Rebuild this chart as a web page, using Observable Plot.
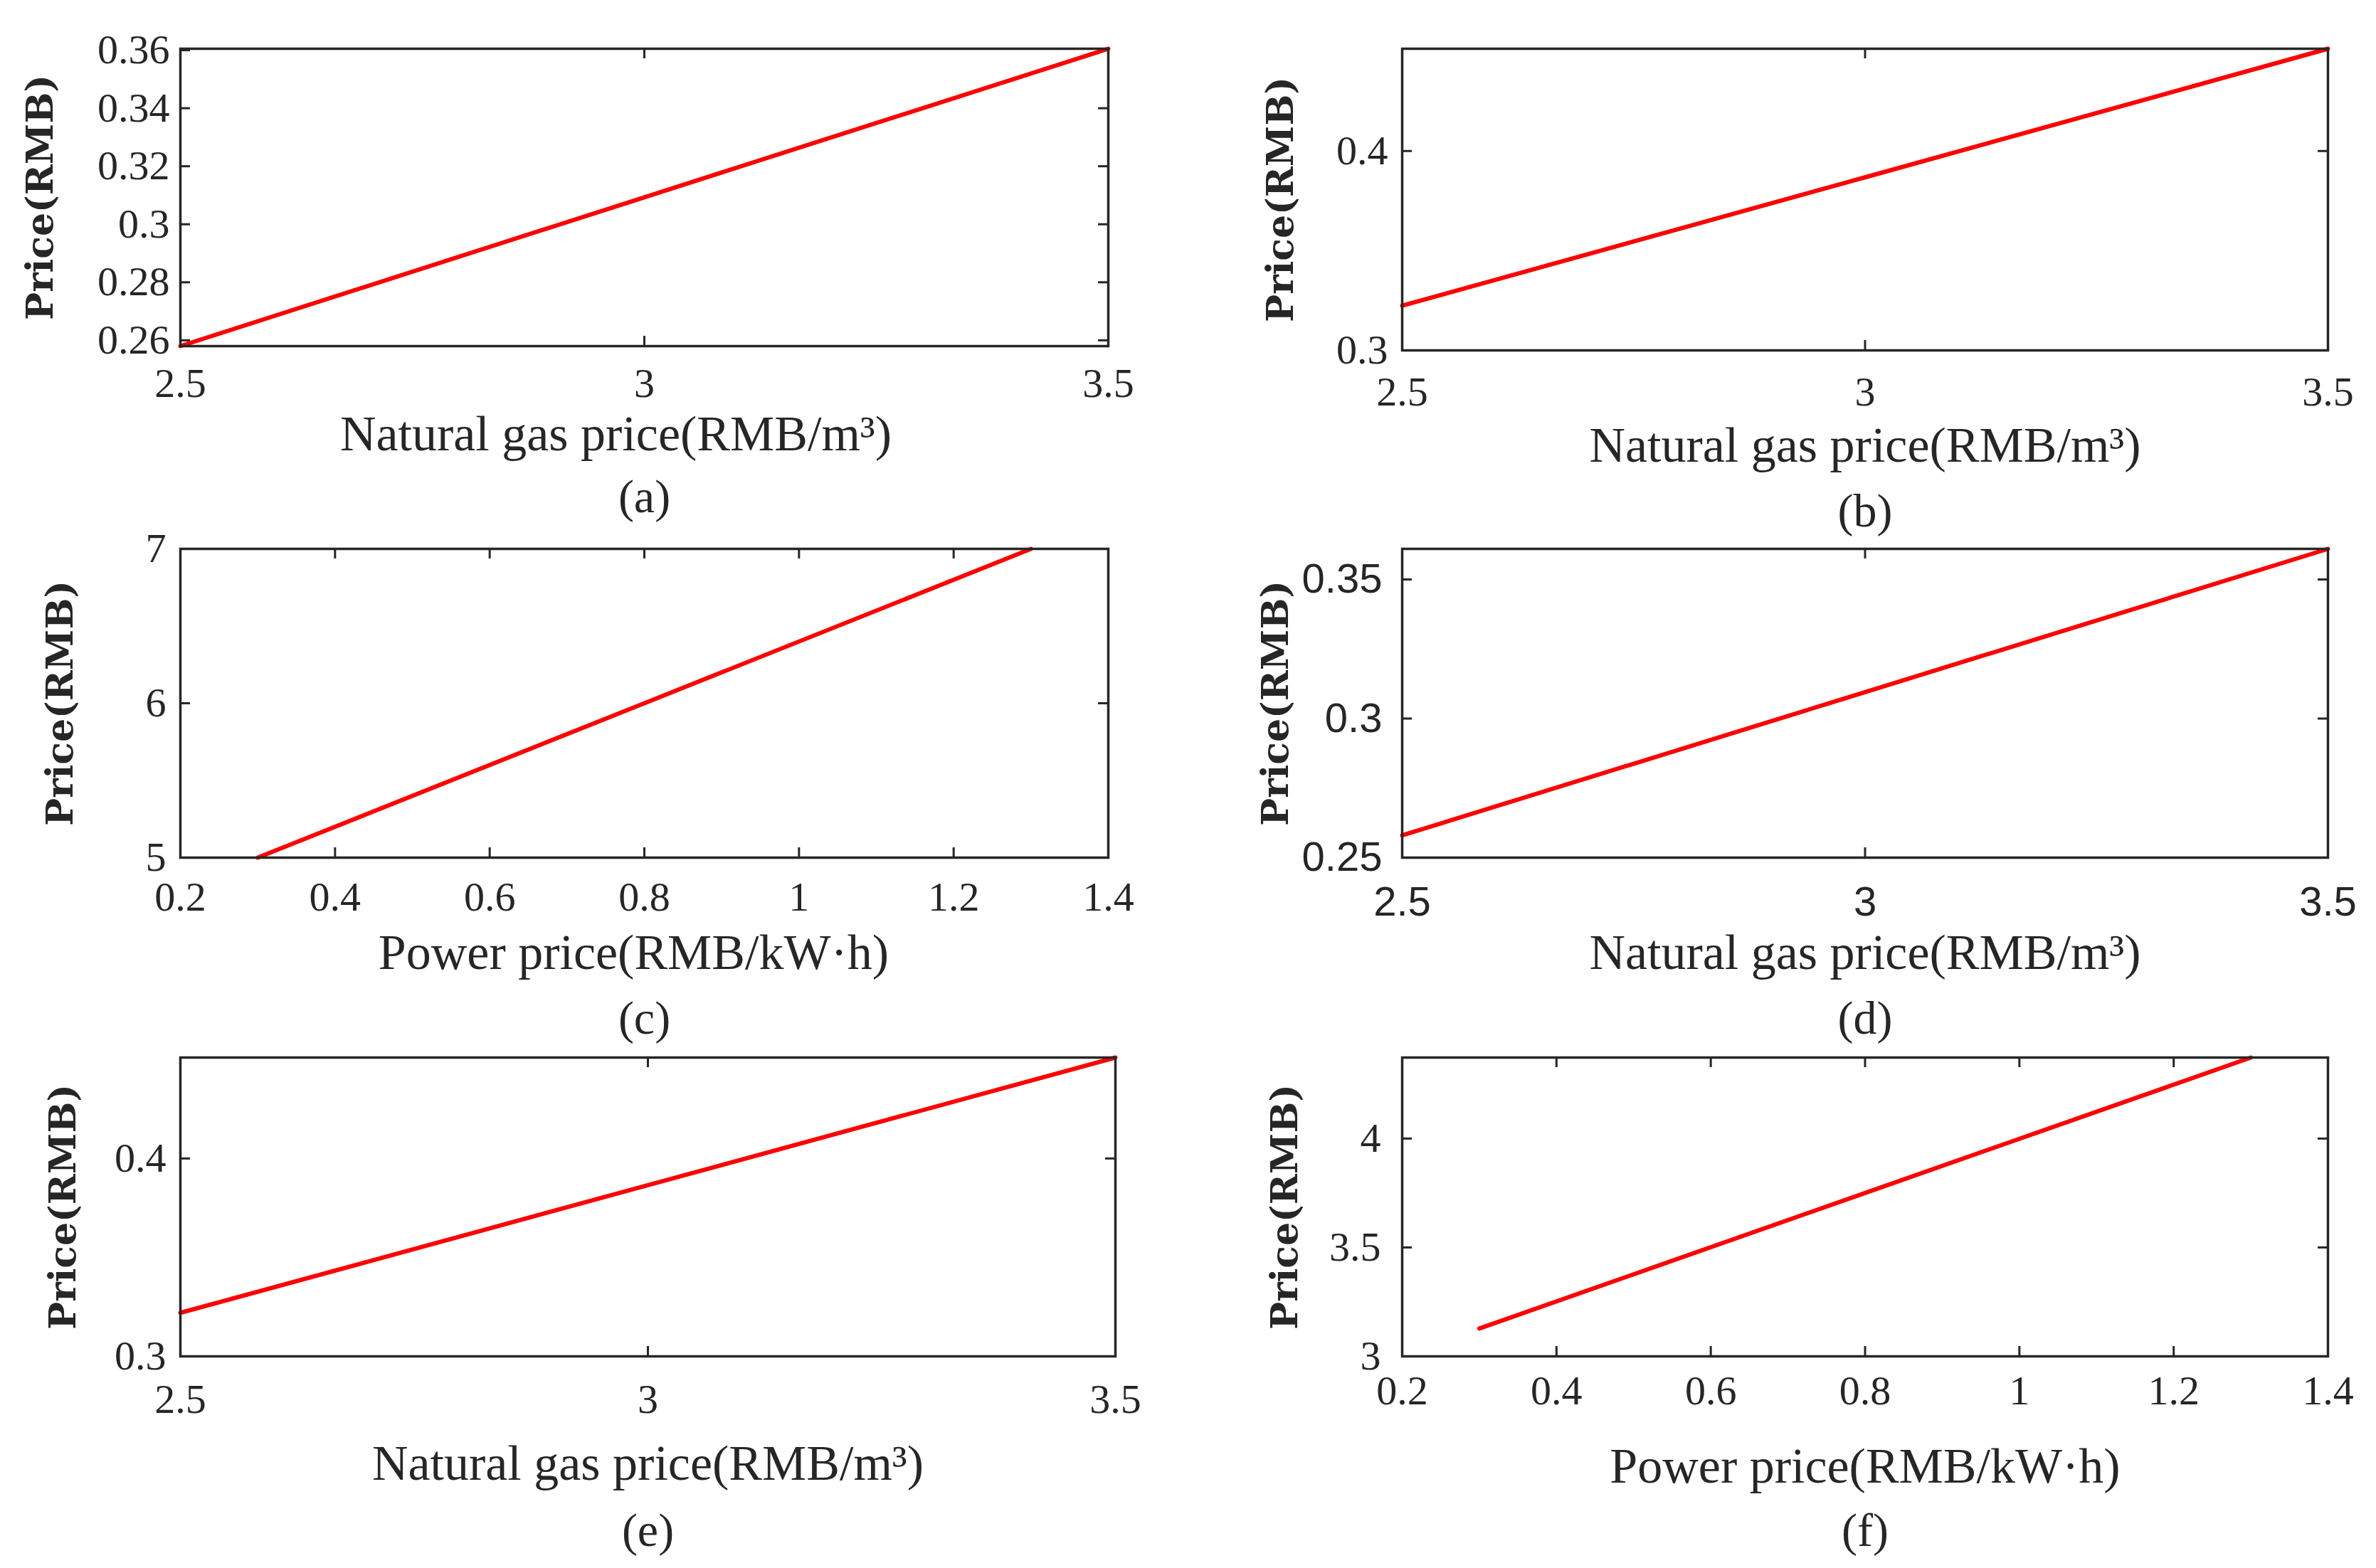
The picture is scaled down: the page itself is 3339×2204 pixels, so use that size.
<!DOCTYPE html>
<html>
<head>
<meta charset="utf-8">
<script src="https://cdn.jsdelivr.net/npm/d3@7"></script>
<script src="https://cdn.jsdelivr.net/npm/@observablehq/plot@0.6"></script>
<style>
  body { margin: 0; background: #fff; }
  #fig { position: relative; width: 3339px; height: 2204px; background: #fff; }
  .panel { position: absolute; }
</style>
</head>
<body>
<div id="fig"></div>
<script>
// values
const gasX = [2.5, 3, 3.5];
const powerX = [0.3, 0.8, 1.3];
const priceA = [0.258, 0.3093, 0.3605];
const priceB = [0.3224, 0.3868, 0.4513];
const priceC = [5, 6, 7];
const priceD = [0.258, 0.3095, 0.361];
const priceE = [0.322, 0.3865, 0.451];
const priceF = [3.128, 3.75, 4.372];

const gasTicks = [2.5, 3, 3.5];
const powerTicks = [0.2, 0.4, 0.6, 0.8, 1, 1.2, 1.4];
const ticksA = [0.26, 0.28, 0.3, 0.32, 0.34, 0.36];
const ticksB = [0.3, 0.4];
const ticksC = [5, 6, 7];
const ticksD = [0.25, 0.3, 0.35];
const ticksE = [0.3, 0.4];
const ticksF = [3, 3.5, 4];

const gasLabel = "Natural gas price(RMB/m³)";
const powerLabel = "Power price(RMB/kW·h)";
const yLabel = "Price(RMB)";
const captions = ["(a)", "(b)", "(c)", "(d)", "(e)", "(f)"];

const ink = "#262626";
const serif = "'Liberation Serif', 'Times New Roman', serif";
const sans = "'Liberation Sans', Arial, sans-serif";

// one entry per sub-plot (layout only)
const panels = [
  {x: gasX, y: priceA, xd: [2.5, 3.5], yd: [0.258, 0.3605], xt: gasTicks, yt: ticksA, xl: gasLabel,
   left: 0, top: 0, w: 1669, h: 740, mt: 68, mb: 254, ml: 253, mr: 112,
   tickY: 30, labY: 124, labDx: -40, capY: 212, ylx: -196, pad: 15, tickFont: serif},
  {x: gasX, y: priceB, xd: [2.5, 3.5], yd: [0.3, 0.4513], xt: gasTicks, yt: ticksB, xl: gasLabel,
   left: 1669, top: 0, w: 1670, h: 740, mt: 68, mb: 248, ml: 301, mr: 68,
   tickY: 36, labY: 134, labDx: 0, capY: 226, ylx: -170, pad: 20, tickFont: serif},
  {x: powerX, y: priceC, xd: [0.2, 1.4], yd: [5, 7], xt: powerTicks, yt: ticksC, xl: powerLabel,
   left: 0, top: 740, w: 1669, h: 720, mt: 31, mb: 255, ml: 253, mr: 112,
   tickY: 33, labY: 134, labDx: -15, capY: 226, ylx: -168, pad: 20, tickFont: serif},
  {x: gasX, y: priceD, xd: [2.5, 3.5], yd: [0.25, 0.361], xt: gasTicks, yt: ticksD, xl: gasLabel,
   left: 1669, top: 740, w: 1670, h: 720, mt: 31, mb: 255, ml: 301, mr: 68,
   tickY: 40, labY: 134, labDx: 0, capY: 226, ylx: -177, pad: 28, tickFont: sans},
  {x: gasX, y: priceE, xd: [2.5, 3.5], yd: [0.3, 0.451], xt: gasTicks, yt: ticksE, xl: gasLabel,
   left: 0, top: 1460, w: 1669, h: 744, mt: 26, mb: 298, ml: 253, mr: 102,
   tickY: 38, labY: 151, labDx: 0, capY: 245, ylx: -164, pad: 20, tickFont: serif},
  {x: powerX, y: priceF, xd: [0.2, 1.4], yd: [3, 4.372], xt: powerTicks, yt: ticksF, xl: powerLabel,
   left: 1669, top: 1460, w: 1670, h: 744, mt: 26, mb: 298, ml: 301, mr: 68,
   tickY: 26, labY: 155, labDx: 0, capY: 245, ylx: -164, pad: 30, tickFont: serif}
];

const fig = d3.select("#fig");

panels.forEach((p, i) => {
  const pts = p.x.map((x, j) => ({x, y: p.y[j]}));
  const pw = p.w - p.ml - p.mr;
  const ph = p.h - p.mt - p.mb;
  const tick = 14;

  const chart = Plot.plot({
    width: p.w,
    height: p.h,
    marginTop: p.mt,
    marginBottom: p.mb,
    marginLeft: p.ml,
    marginRight: p.mr,
    x: {domain: p.xd},
    y: {domain: p.yd},
    style: {background: "transparent", color: ink, fontFamily: serif, overflow: "visible"},
    marks: [
      Plot.axisX({ticks: p.xt, tickSize: 0, tickPadding: p.tickY, label: null,
        tickFormat: d => String(d), fontSize: 58, fontFamily: p.tickFont, fill: ink}),
      Plot.axisY({ticks: p.yt, tickSize: 0, tickPadding: p.pad, label: null,
        tickFormat: d => String(d), fontSize: 58, fontFamily: p.tickFont, fill: ink}),
      // inward ticks on all four sides
      Plot.tickX(p.xt, {x: d => d, insetTop: ph - tick, stroke: ink, strokeWidth: 3}),
      Plot.tickX(p.xt, {x: d => d, insetBottom: ph - tick, stroke: ink, strokeWidth: 3}),
      Plot.tickY(p.yt, {y: d => d, insetRight: pw - tick, stroke: ink, strokeWidth: 3}),
      Plot.tickY(p.yt, {y: d => d, insetLeft: pw - tick, stroke: ink, strokeWidth: 3}),
      Plot.line(pts, {x: "x", y: "y", stroke: "#ff0000", strokeWidth: 6}),
      Plot.frame({stroke: ink, strokeWidth: 3.5}),
      Plot.text([yLabel], {text: d => d, frameAnchor: "left", dx: p.ylx, rotate: -90,
        textAnchor: "middle", lineAnchor: "middle",
        fontFamily: "'DejaVu Serif', serif", fontWeight: "bold", fontSize: 52, fill: ink}),
      Plot.text([p.xl], {text: d => d, frameAnchor: "bottom", dy: p.labY, dx: p.labDx,
        textAnchor: "middle", lineAnchor: "middle", fontSize: 70, fill: ink}),
      Plot.text([captions[i]], {text: d => d, frameAnchor: "bottom", dy: p.capY,
        textAnchor: "middle", lineAnchor: "middle", fontSize: 66, fill: ink})
    ]
  });

  fig.append("div")
    .attr("class", "panel")
    .style("left", p.left + "px")
    .style("top", p.top + "px")
    .append(() => chart);
});
</script>
</body>
</html>
